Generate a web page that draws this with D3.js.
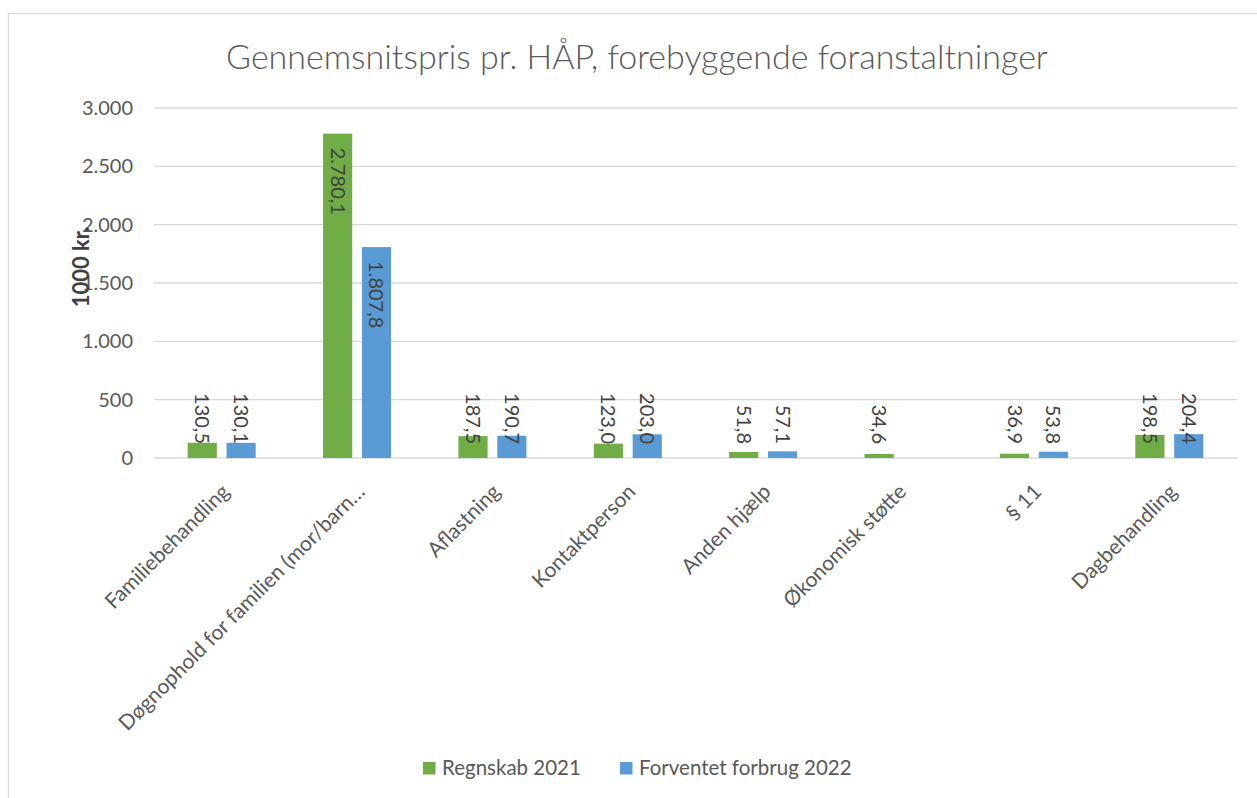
<!DOCTYPE html>
<html>
<head>
<meta charset="utf-8">
<script src="https://cdn.jsdelivr.net/npm/d3@7"></script>
<style>
  body { margin: 0; background: #fff; }
  svg { display: block; font-family: Lato, "Open Sans", sans-serif; }
</style>
</head>
<body>
<div id="chart"></div>
<script>
// data
var categories = [
  "Familiebehandling",
  "Døgnophold for familien (mor/barn…",
  "Aflastning",
  "Kontaktperson",
  "Anden hjælp",
  "Økonomisk støtte",
  "§ 11",
  "Dagbehandling"
];
var seriesNames = ["Regnskab 2021", "Forventet forbrug 2022"];
var regnskab2021 = [130.5, 2780.1, 187.5, 123.0, 51.8, 34.6, 36.9, 198.5];
var forventet2022 = [130.1, 1807.8, 190.7, 203.0, 57.1, null, 53.8, 204.4];
var yTicks = [0, 500, 1000, 1500, 2000, 2500, 3000];
var colors = ["#70AD47", "#5B9BD5"];

var titleText = "Gennemsnitspris pr. HÅP, forebyggende foranstaltninger";
var yTitle = "1000 kr.";

// danish number format
var da = d3.formatLocale({ decimal: ",", thousands: ".", grouping: [3], currency: ["", " kr."] });
var fmtLabel = da.format(",.1f");
var fmtTick = da.format(",.0f");

var svgWidth = 1257;
var svgHeight = 798;

var margin = { top: 108, right: 20, bottom: 340, left: 154 };
var chartWidth = 1237 - margin.left;
var chartHeight = 458 - margin.top;

var svg = d3.select("#chart")
  .append("svg")
  .attr("width", svgWidth)
  .attr("height", svgHeight);

// chart area border
svg.append("rect")
  .attr("x", 8.5)
  .attr("y", 13.5)
  .attr("width", 1300)
  .attr("height", 900)
  .attr("fill", "none")
  .attr("stroke", "#D9D9D9")
  .attr("stroke-width", 1.3);

// title
svg.append("text")
  .attr("x", 637)
  .attr("y", 69)
  .attr("text-anchor", "middle")
  .attr("fill", "#595959")
  .style("font-size", "34px")
  .style("font-weight", 300)
  .text(titleText);

var chartGroup = svg.append("g")
  .attr("transform", `translate(${margin.left}, ${margin.top})`);

// scales
var x0 = d3.scaleBand()
  .domain(categories)
  .range([0, chartWidth]);

var x1 = d3.scaleBand()
  .domain(seriesNames)
  .range([x0.bandwidth() / 2 - 34, x0.bandwidth() / 2 + 34])
  .paddingInner(0.25);

var yScale = d3.scaleLinear()
  .domain([0, 3000])
  .range([chartHeight, 0]);

// gridlines
chartGroup.selectAll(".grid")
  .data(yTicks)
  .enter()
  .append("line")
  .attr("x1", 0)
  .attr("x2", chartWidth)
  .attr("y1", d => yScale(d))
  .attr("y2", d => yScale(d))
  .attr("stroke", "#D9D9D9")
  .attr("stroke-width", 1.3);

// y axis labels
var yAxis = d3.axisLeft(yScale)
  .tickValues(yTicks)
  .tickFormat(fmtTick)
  .tickSize(0)
  .tickPadding(21);

var yAxisG = chartGroup.append("g").call(yAxis);
yAxisG.select(".domain").remove();
yAxisG.selectAll("text")
  .attr("fill", "#595959")
  .style("font-family", "Lato, sans-serif")
  .style("font-size", "20px");

// x axis labels
chartGroup.selectAll(".xlabel")
  .data(categories)
  .enter()
  .append("text")
  .attr("transform", d => `translate(${x0(d) + x0.bandwidth() / 2 + 9}, ${chartHeight + 35}) rotate(-45)`)
  .attr("text-anchor", "end")
  .attr("fill", "#595959")
  .style("font-size", "21px")
  .text(d => d);

// bars
var rows = categories.map(function(c, i) {
  return [
    { cat: c, series: seriesNames[0], value: regnskab2021[i], color: colors[0] },
    { cat: c, series: seriesNames[1], value: forventet2022[i], color: colors[1] }
  ].filter(d => d.value !== null);
});

var groups = chartGroup.selectAll(".group")
  .data(rows)
  .enter()
  .append("g")
  .attr("transform", (d, i) => `translate(${x0(categories[i])}, 0)`);

groups.selectAll("rect")
  .data(d => d)
  .enter()
  .append("rect")
  .attr("x", d => x1(d.series))
  .attr("y", d => yScale(d.value))
  .attr("width", x1.bandwidth())
  .attr("height", d => chartHeight - yScale(d.value))
  .attr("fill", d => d.color);

// data labels, rotated
groups.selectAll(".lbl")
  .data(d => d)
  .enter()
  .append("text")
  .attr("fill", "#404040")
  .style("font-size", "20px")
  .text(d => fmtLabel(d.value))
  .each(function(d) {
    var len = this.getComputedTextLength();
    var barH = chartHeight - yScale(d.value);
    var cx = x1(d.series) + x1.bandwidth() / 2;
    var inside = barH > len + 30;
    d3.select(this)
      .attr("text-anchor", inside ? "start" : "end")
      .attr("dy", "0.35em")
      .attr("transform", `translate(${cx}, ${inside ? yScale(d.value) + 14 : chartHeight - 14}) rotate(90)`);
  });

// y axis title
svg.append("text")
  .attr("transform", "translate(81, 267) rotate(-90)")
  .attr("text-anchor", "middle")
  .attr("dy", "0.35em")
  .attr("fill", "#404040")
  .style("font-size", "22px")
  .style("font-weight", 700)
  .text(yTitle);

// legend
var legendX = [423, 620];
var legend = svg.selectAll(".legend")
  .data(seriesNames)
  .enter()
  .append("g")
  .attr("transform", (d, i) => `translate(${legendX[i]}, 762)`);

legend.append("rect")
  .attr("width", 12.5)
  .attr("height", 12.5)
  .attr("fill", (d, i) => colors[i]);

legend.append("text")
  .attr("x", 19)
  .attr("y", 13)
  .attr("fill", "#595959")
  .style("font-size", "20.5px")
  .text(d => d);
</script>
</body>
</html>
